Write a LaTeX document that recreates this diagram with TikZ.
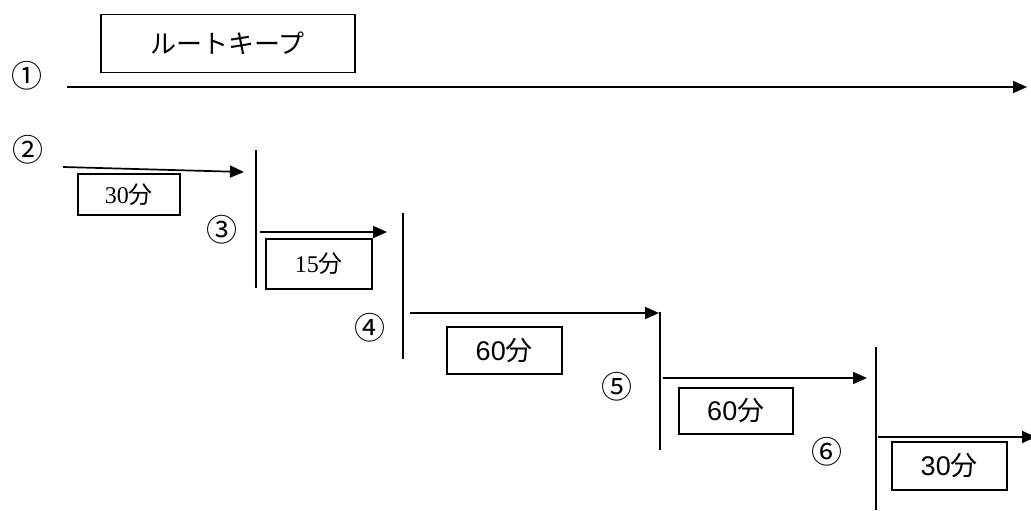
\documentclass[tikz,border=0pt]{standalone}
\usepackage{fontspec}
\setmainfont{Liberation Serif}
\newfontfamily\jp{Noto Sans CJK JP}
\newfontfamily\num{Liberation Sans}
\usetikzlibrary{arrows.meta}
\begin{document}
\begin{tikzpicture}[x=1pt,y=-1pt,
  ln/.style={line width=1.7pt},
  arr/.style={line width=1.7pt,-{Triangle[length=14pt,width=12pt]}},
  lbox/.style={draw,line width=1.5pt,anchor=north west,inner sep=0pt},
  gt/.style={font=\fontsize{27}{27}\selectfont},
  mt/.style={font=\fontsize{24}{24}\selectfont},
  circ/.style={font=\jp\fontsize{31}{31}\selectfont,inner sep=0pt}]
\useasboundingbox (0,0) rectangle (1031,511);
% title box
\node[lbox,minimum width=254pt,minimum height=58pt,font=\jp\fontsize{26}{26}\selectfont] (kb) at (100,14) {ルートキープ};
\node[circ] (c1) at (27,76) {①};
\coordinate (a1s) at (67,87);
\coordinate (a1e) at (1027,87);
\draw[arr] (a1s) -- (a1e);
% step 2
\node[circ] (c2) at (28,150) {②};
\coordinate (a2s) at (63,167);
\coordinate (a2e) at (244,172);
\draw[arr] (a2s) -- (a2e);
\node[lbox,minimum width=102pt,minimum height=41pt,mt] (b2) at (77,173) {30{\jp 分}};
\coordinate (v2t) at (256,150); \coordinate (v2b) at (256,288);
\draw[ln] (v2t) -- (v2b);
% step 3
\node[circ] (c3) at (222,230) {③};
\coordinate (a3s) at (260,232);
\coordinate (a3e) at (387,232);
\draw[arr] (a3s) -- (a3e);
\node[lbox,minimum width=106pt,minimum height=50pt,mt] (b3) at (265,238) {15{\jp 分}};
\coordinate (v3t) at (403,213); \coordinate (v3b) at (403,359);
\draw[ln] (v3t) -- (v3b);
% step 4
\node[circ] (c4) at (370,328) {④};
\coordinate (a4s) at (410,313);
\coordinate (a4e) at (659,313);
\draw[arr] (a4s) -- (a4e);
\node[lbox,minimum width=115pt,minimum height=47pt,gt] (b4) at (446,326) {{\num 60}{\jp 分}};
\coordinate (v4t) at (660,312); \coordinate (v4b) at (660,450);
\draw[ln] (v4t) -- (v4b);
% step 5
\node[circ] (c5) at (617,387) {⑤};
\coordinate (a5s) at (663,378);
\coordinate (a5e) at (867,378);
\draw[arr] (a5s) -- (a5e);
\node[lbox,minimum width=114pt,minimum height=46pt,gt] (b5) at (678,387) {{\num 60}{\jp 分}};
\coordinate (v5t) at (876,347); \coordinate (v5b) at (876,510);
\draw[ln] (v5t) -- (v5b);
% step 6
\node[circ] (c6) at (827,452) {⑥};
\coordinate (a6s) at (878,437);
\coordinate (a6e) at (1036,437);
\draw[arr] (a6s) -- (a6e);
\node[lbox,minimum width=115pt,minimum height=48pt,gt] (b6) at (891,441) {{\num 30}{\jp 分}};
\end{tikzpicture}
\end{document}
